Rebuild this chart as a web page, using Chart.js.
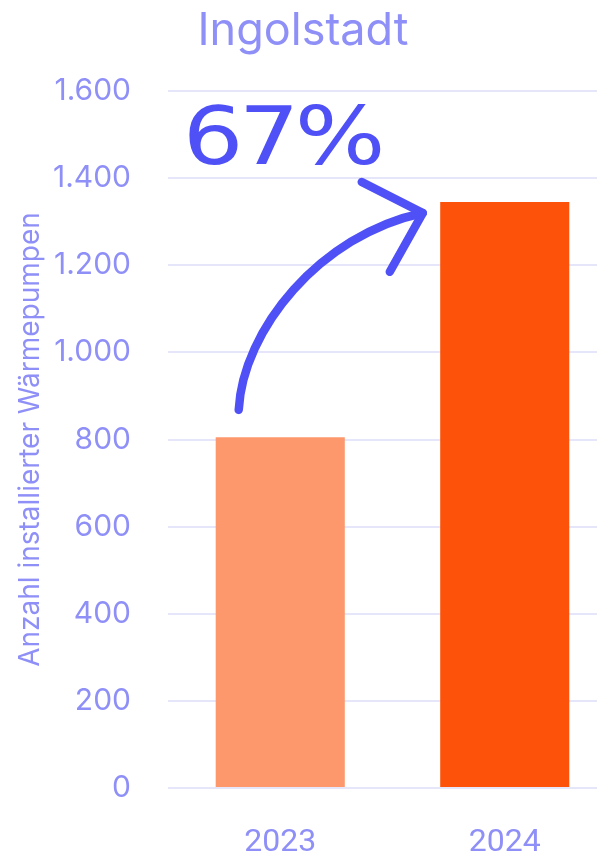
<!DOCTYPE html>
<html lang="de">
<head>
<meta charset="utf-8">
<script src="https://cdn.jsdelivr.net/npm/chart.js@4"></script>
<style>
  html, body { margin: 0; padding: 0; background: #ffffff; overflow: hidden; width: 597px; height: 852px; }
  canvas { display: block; }
</style>
</head>
<body>
<canvas id="chart" width="617" height="852"></canvas>
<script>
// Installed heat pumps per year
const years = ['2023', '2024'];
const installs = [805, 1345];
const barColors = ['#FC986C', '#FD520A'];
const yMax = 1600;
const yStep = 200;
const cityName = 'Ingolstadt';
const axisTitle = 'Anzahl installierter Wärmepumpen';

const lavender = '#8F8FF8';
const accent = '#4F51F6';

const growthPct = Math.round((installs[1] / installs[0] - 1) * 100) + '%';

function formatDe(v) {
  return String(v).replace(/\B(?=(\d{3})+(?!\d))/g, '.');
}

// Heading, growth figure and curved arrow drawn on top of the bars
const overlay = {
  id: 'overlay',
  afterDraw(chart) {
    const { ctx, scales: { x, y } } = chart;
    const P = (xi, v) => [x.getPixelForValue(xi), y.getPixelForValue(v)];

    ctx.save();
    // heading
    ctx.fillStyle = lavender;
    ctx.font = '400 45px Inter';
    ctx.textAlign = 'center';
    ctx.textBaseline = 'alphabetic';
    ctx.fillText(cityName, 303, 45);

    // growth figure
    const [tx, ty] = P(-0.434, 1433);
    ctx.font = '500 81px "DejaVu Sans"';
    ctx.letterSpacing = '-4px';
    ctx.textAlign = 'left';
    const w = ctx.measureText(growthPct).width;
    ctx.translate(tx, ty);
    ctx.scale(198 / w, 1);
    ctx.fillStyle = accent;
    ctx.fillText(growthPct, 0, 0);
    ctx.restore();

    // curved arrow from the 2023 bar to the 2024 bar
    ctx.save();
    ctx.strokeStyle = accent;
    ctx.lineWidth = 8.5;
    ctx.lineCap = 'round';
    ctx.lineJoin = 'round';
    const p0 = P(-0.185, 868), p1 = P(-0.167, 1051), p2 = P(0.176, 1270), p3 = P(0.635, 1320);
    ctx.beginPath();
    ctx.moveTo(p0[0], p0[1]);
    ctx.bezierCurveTo(p1[0], p1[1], p2[0], p2[1], p3[0], p3[1]);
    ctx.stroke();
    const h1 = P(0.363, 1391), h2 = P(0.488, 1185);
    ctx.beginPath();
    ctx.moveTo(h1[0], h1[1]);
    ctx.lineTo(p3[0], p3[1]);
    ctx.lineTo(h2[0], h2[1]);
    ctx.stroke();
    ctx.restore();
  }
};

new Chart(document.getElementById('chart'), {
  type: 'bar',
  data: {
    labels: years,
    datasets: [{
      data: installs,
      backgroundColor: barColors,
      borderWidth: 0,
      barPercentage: 0.575,
      categoryPercentage: 1
    }]
  },
  options: {
    responsive: false,
    animation: false,
    devicePixelRatio: 1,
    layout: { padding: { top: 91, right: 0, bottom: 0, left: 0 } },
    plugins: {
      legend: { display: false },
      tooltip: { enabled: false },
      title: { display: false }
    },
    scales: {
      x: {
        grid: { display: false },
        border: { display: false },
        ticks: {
          color: lavender,
          font: { family: 'Roboto', size: 32 },
          padding: 28
        },
        afterFit(scale) { scale.height = 64; }
      },
      y: {
        min: 0,
        max: yMax,
        border: { display: false },
        grid: { color: '#E6E6FA', lineWidth: 2, drawTicks: false },
        ticks: {
          stepSize: yStep,
          color: lavender,
          font: { family: 'Inter', size: 30 },
          padding: 37,
          callback: (v) => formatDe(v)
        },
        title: {
          display: true,
          text: axisTitle,
          color: lavender,
          font: { family: 'Inter', size: 28 },
          padding: { top: 14, bottom: 0 }
        },
        afterFit(scale) { scale.width = 168; }
      }
    }
  },
  plugins: [overlay]
});
</script>
</body>
</html>
